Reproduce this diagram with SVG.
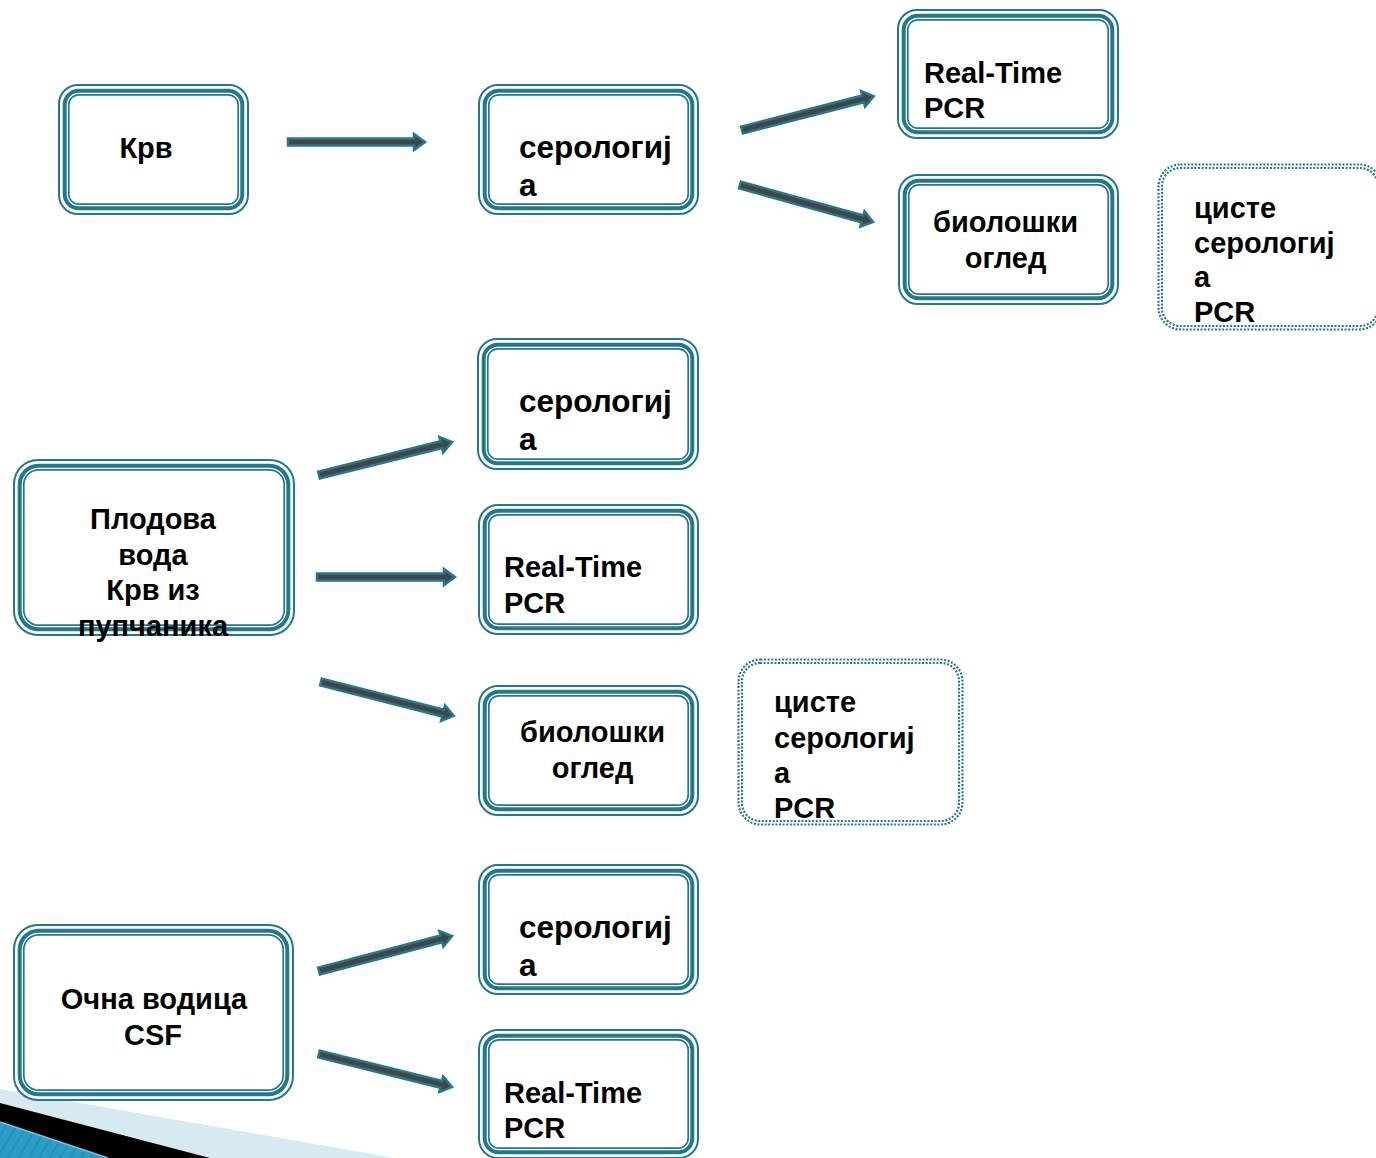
<svg xmlns="http://www.w3.org/2000/svg" width="1376" height="1158" viewBox="0 0 1376 1158">
<defs>
<style>
.o{fill:#fff;stroke:#23788e;stroke-width:2}
.m{fill:none;stroke:#23788e;stroke-width:4}
.i{fill:none;stroke:#23788e;stroke-width:1.7}
.d{fill:none;stroke:#23788e;stroke-width:2.2;stroke-dasharray:2 1.6}
.t{font-family:"Liberation Sans",Arial,sans-serif;font-weight:bold;font-size:29px;fill:#000}
.s{font-size:31.5px}
.c{text-anchor:middle}
.a{fill:#444;stroke:#23788e;stroke-width:2.5;stroke-linejoin:miter}
</style>
<pattern id="stripes" width="9" height="9" patternUnits="userSpaceOnUse" patternTransform="rotate(30)">
<rect width="9" height="9" fill="#2b9dc6"/>
<rect width="2" height="9" fill="#2690b8"/>
</pattern>
</defs>
<rect width="1376" height="1158" fill="#fff"/>
<g id="decor">
<polygon points="0,1089 395,1158 0,1158" fill="#d7e9f1"/>
<polygon points="0,1103 210,1158 0,1158" fill="#000"/>
<polygon points="0,1122 108,1158 0,1158" fill="url(#stripes)"/>
<line x1="0" y1="1122" x2="108" y2="1158" stroke="#7cc3dc" stroke-width="1.5"/>
</g>
<g id="connectors">
<polygon class="a" transform="translate(288,142)" points="0,-3.5 126,-3.5 126,-8 137,0 126,8 126,3.5 0,3.5"/>
<polygon class="a" transform="translate(742,130) rotate(-14.4)" points="0,-3.5 125,-3.5 125,-8 136,0 125,8 125,3.5 0,3.5"/>
<polygon class="a" transform="translate(740,185) rotate(15.5)" points="0,-3.5 127,-3.5 127,-8 138,0 127,8 127,3.5 0,3.5"/>
<polygon class="a" transform="translate(319,475) rotate(-13.9)" points="0,-3.5 126,-3.5 126,-8 137,0 126,8 126,3.5 0,3.5"/>
<polygon class="a" transform="translate(317,577)" points="0,-3.5 127,-3.5 127,-8 138,0 127,8 127,3.5 0,3.5"/>
<polygon class="a" transform="translate(321,682) rotate(14.3)" points="0,-3.5 126,-3.5 126,-8 137,0 126,8 126,3.5 0,3.5"/>
<polygon class="a" transform="translate(319,971) rotate(-14.7)" points="0,-3.5 126.5,-3.5 126.5,-8 137.5,0 126.5,8 126.5,3.5 0,3.5"/>
<polygon class="a" transform="translate(319,1054) rotate(13.9)" points="0,-3.5 126,-3.5 126,-8 137,0 126,8 126,3.5 0,3.5"/>
</g>
<g id="krv">
<rect class="o" x="59" y="85" width="189" height="129" rx="19"/>
<rect class="m" x="64.7" y="90.7" width="177.6" height="117.6" rx="14"/>
<rect class="i" x="68.8" y="94.8" width="169.4" height="109.4" rx="10"/>
<text class="t c" x="146" y="158">Крв</text>
</g>
<g id="serologija1">
<rect class="o" x="479" y="85" width="219" height="129" rx="19"/>
<rect class="m" x="484.7" y="90.7" width="207.6" height="117.6" rx="14"/>
<rect class="i" x="488.8" y="94.8" width="199.4" height="109.4" rx="10"/>
<text class="t s" x="519" y="158">серологиј</text>
<text class="t s" x="519" y="196">а</text>
</g>
<g id="realtime1">
<rect class="o" x="898" y="10" width="220" height="128" rx="19"/>
<rect class="m" x="903.7" y="15.7" width="208.6" height="116.6" rx="14"/>
<rect class="i" x="907.8" y="19.8" width="200.4" height="108.4" rx="10"/>
<text class="t" x="924" y="83">Real-Time</text>
<text class="t" x="924" y="118">PCR</text>
</g>
<g id="bioloski1">
<rect class="o" x="899" y="175" width="219" height="129" rx="19"/>
<rect class="m" x="904.7" y="180.7" width="207.6" height="117.6" rx="14"/>
<rect class="i" x="908.8" y="184.8" width="199.4" height="109.4" rx="10"/>
<text class="t c" x="1005.5" y="232">биолошки</text>
<text class="t c" x="1005.5" y="268">оглед</text>
</g>
<g id="ciste1">
<rect class="d" x="1158.5" y="164.5" width="223" height="165" rx="22"/>
<rect class="d" x="1162" y="168" width="216" height="158" rx="18"/>
<text class="t" x="1194" y="218">цисте</text>
<text class="t" x="1194" y="253">серологиј</text>
<text class="t" x="1194" y="287">а</text>
<text class="t" x="1194" y="322">PCR</text>
</g>
<g id="serologija2">
<rect class="o" x="478" y="339" width="220" height="130" rx="19"/>
<rect class="m" x="483.7" y="344.7" width="208.6" height="118.6" rx="14"/>
<rect class="i" x="487.8" y="348.8" width="200.4" height="110.4" rx="10"/>
<text class="t s" x="519" y="412">серологиј</text>
<text class="t s" x="519" y="450">а</text>
</g>
<g id="plodova">
<rect class="o" x="14" y="460" width="280" height="175" rx="24"/>
<rect class="m" x="19.7" y="465.7" width="268.6" height="163.6" rx="19"/>
<rect class="i" x="23.8" y="469.8" width="260.4" height="155.4" rx="15"/>
<text class="t c" x="153" y="529">Плодова</text>
<text class="t c" x="153" y="565">вода</text>
<text class="t c" x="153" y="600">Крв из</text>
<text class="t c" x="153" y="636">пупчаника</text>
</g>
<g id="realtime2">
<rect class="o" x="479" y="505" width="219" height="129" rx="19"/>
<rect class="m" x="484.7" y="510.7" width="207.6" height="117.6" rx="14"/>
<rect class="i" x="488.8" y="514.8" width="199.4" height="109.4" rx="10"/>
<text class="t" x="504" y="577">Real-Time</text>
<text class="t" x="504" y="613">PCR</text>
</g>
<g id="bioloski2">
<rect class="o" x="479" y="686" width="219" height="129" rx="19"/>
<rect class="m" x="484.7" y="691.7" width="207.6" height="117.6" rx="14"/>
<rect class="i" x="488.8" y="695.8" width="199.4" height="109.4" rx="10"/>
<text class="t c" x="592.5" y="742">биолошки</text>
<text class="t c" x="592.5" y="778">оглед</text>
</g>
<g id="ciste2">
<rect class="d" x="738.5" y="659.5" width="224" height="165" rx="22"/>
<rect class="d" x="742" y="663" width="217" height="158" rx="18"/>
<text class="t" x="774" y="712">цисте</text>
<text class="t" x="774" y="748">серологиј</text>
<text class="t" x="774" y="783">а</text>
<text class="t" x="774" y="818">PCR</text>
</g>
<g id="serologija3">
<rect class="o" x="479" y="865" width="219" height="129" rx="19"/>
<rect class="m" x="484.7" y="870.7" width="207.6" height="117.6" rx="14"/>
<rect class="i" x="488.8" y="874.8" width="199.4" height="109.4" rx="10"/>
<text class="t s" x="519" y="938">серологиј</text>
<text class="t s" x="519" y="976">а</text>
</g>
<g id="ocna">
<rect class="o" x="14" y="925" width="279" height="175" rx="24"/>
<rect class="m" x="19.7" y="930.7" width="267.6" height="163.6" rx="19"/>
<rect class="i" x="23.8" y="934.8" width="259.4" height="155.4" rx="15"/>
<text class="t c" x="154" y="1009">Очна водица</text>
<text class="t c" x="153" y="1045">CSF</text>
</g>
<g id="realtime3">
<rect class="o" x="479" y="1030" width="219" height="128" rx="19"/>
<rect class="m" x="484.7" y="1035.7" width="207.6" height="116.6" rx="14"/>
<rect class="i" x="488.8" y="1039.8" width="199.4" height="108.4" rx="10"/>
<text class="t" x="504" y="1103">Real-Time</text>
<text class="t" x="504" y="1138">PCR</text>
</g>
</svg>
